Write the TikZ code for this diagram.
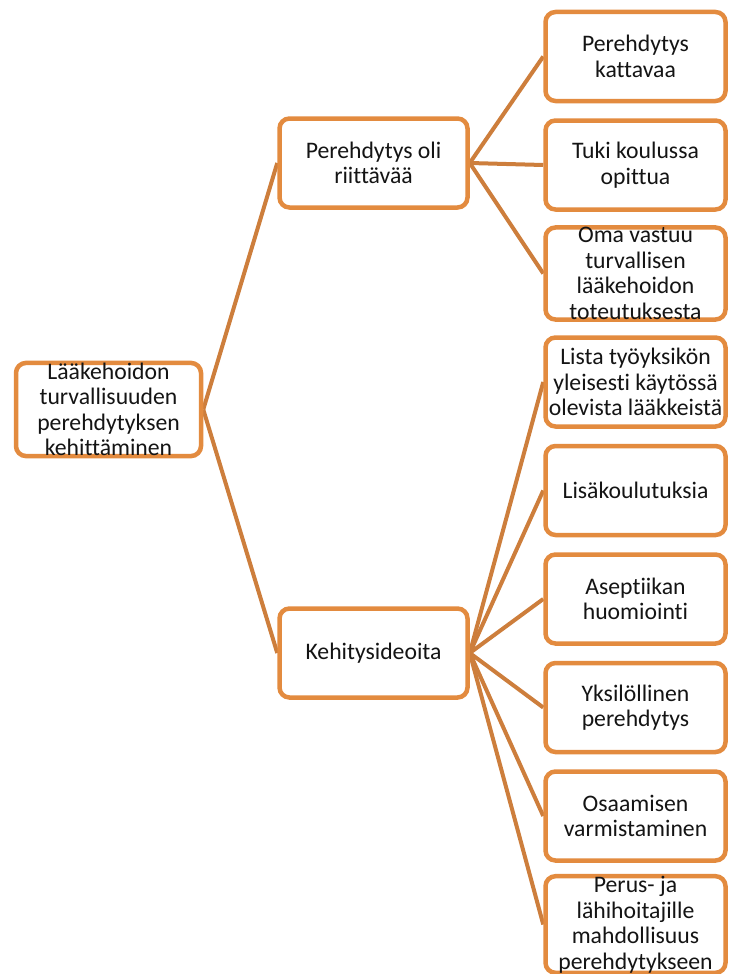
\documentclass[tikz,border=0pt]{standalone}
\usepackage{fontspec}
\setmainfont{Carlito}[Ligatures=NoCommon]
\usetikzlibrary{backgrounds}
\definecolor{boxorange}{RGB}{227,139,63}
\definecolor{linkorange}{RGB}{205,126,60}
\definecolor{inktext}{RGB}{20,20,20}
\begin{document}
\begin{tikzpicture}[x=1pt,y=-1pt,
  card/.style={draw=boxorange, line width=4.5pt, rounded corners=10pt, fill=white,
    align=center, inner sep=0pt, text=inktext,
    font=\fontsize{23.7}{25.5}\selectfont},
  leaf/.style={card, minimum width=180pt, minimum height=89pt},
  mid/.style={card, minimum width=188pt, minimum height=89pt},
  link/.style={draw=linkorange, line width=4pt}]
\useasboundingbox (0,0) rectangle (728,974);

% root and the two branches
\node[card, minimum width=185pt, minimum height=91pt] (root) at (108.5,409.5)
  {Lääkehoidon\\turvallisuuden\\perehdytyksen\\kehittäminen};
\node[mid] (ok) at (373.5,163) {Perehdytys oli\\riittävää};
\node[mid] (ideas) at (373.5,653) {Kehitysideoita};

% leaves
\node[leaf] (l1) at (635.5,56.5)  {Perehdytys\\kattavaa};
\node[leaf] (l2) at (635.5,165)   {Tuki koulussa\\opittua};
\node[leaf] (l3) at (635.5,273.5) {Oma vastuu\\turvallisen\\lääkehoidon\\toteutuksesta};
\node[leaf] (l4) at (635.5,382)   {Lista työyksikön\\yleisesti käytössä\\olevista lääkkeistä};
\node[leaf] (l5) at (635.5,490.5) {Lisäkoulutuksia};
\node[leaf] (l6) at (635.5,599)   {Aseptiikan\\huomiointi};
\node[leaf] (l7) at (635.5,707.5) {Yksilöllinen\\perehdytys};
\node[leaf] (l8) at (635.5,816)   {Osaamisen\\varmistaminen};
\node[leaf] (l9) at (635.5,924.5) {Perus- ja\\lähihoitajille\\mahdollisuus\\perehdytykseen};

% connectors, drawn behind the boxes
\begin{scope}[on background layer]
  \draw[link] (root.east) -- (ok.west);
  \draw[link] (root.east) -- (ideas.west);
  \foreach \n in {l1,l2,l3}
    \draw[link] (ok.east) -- (\n.west);
  \foreach \n in {l4,l5,l6,l7,l8,l9}
    \draw[link] (ideas.east) -- (\n.west);
\end{scope}
\end{tikzpicture}
\end{document}
